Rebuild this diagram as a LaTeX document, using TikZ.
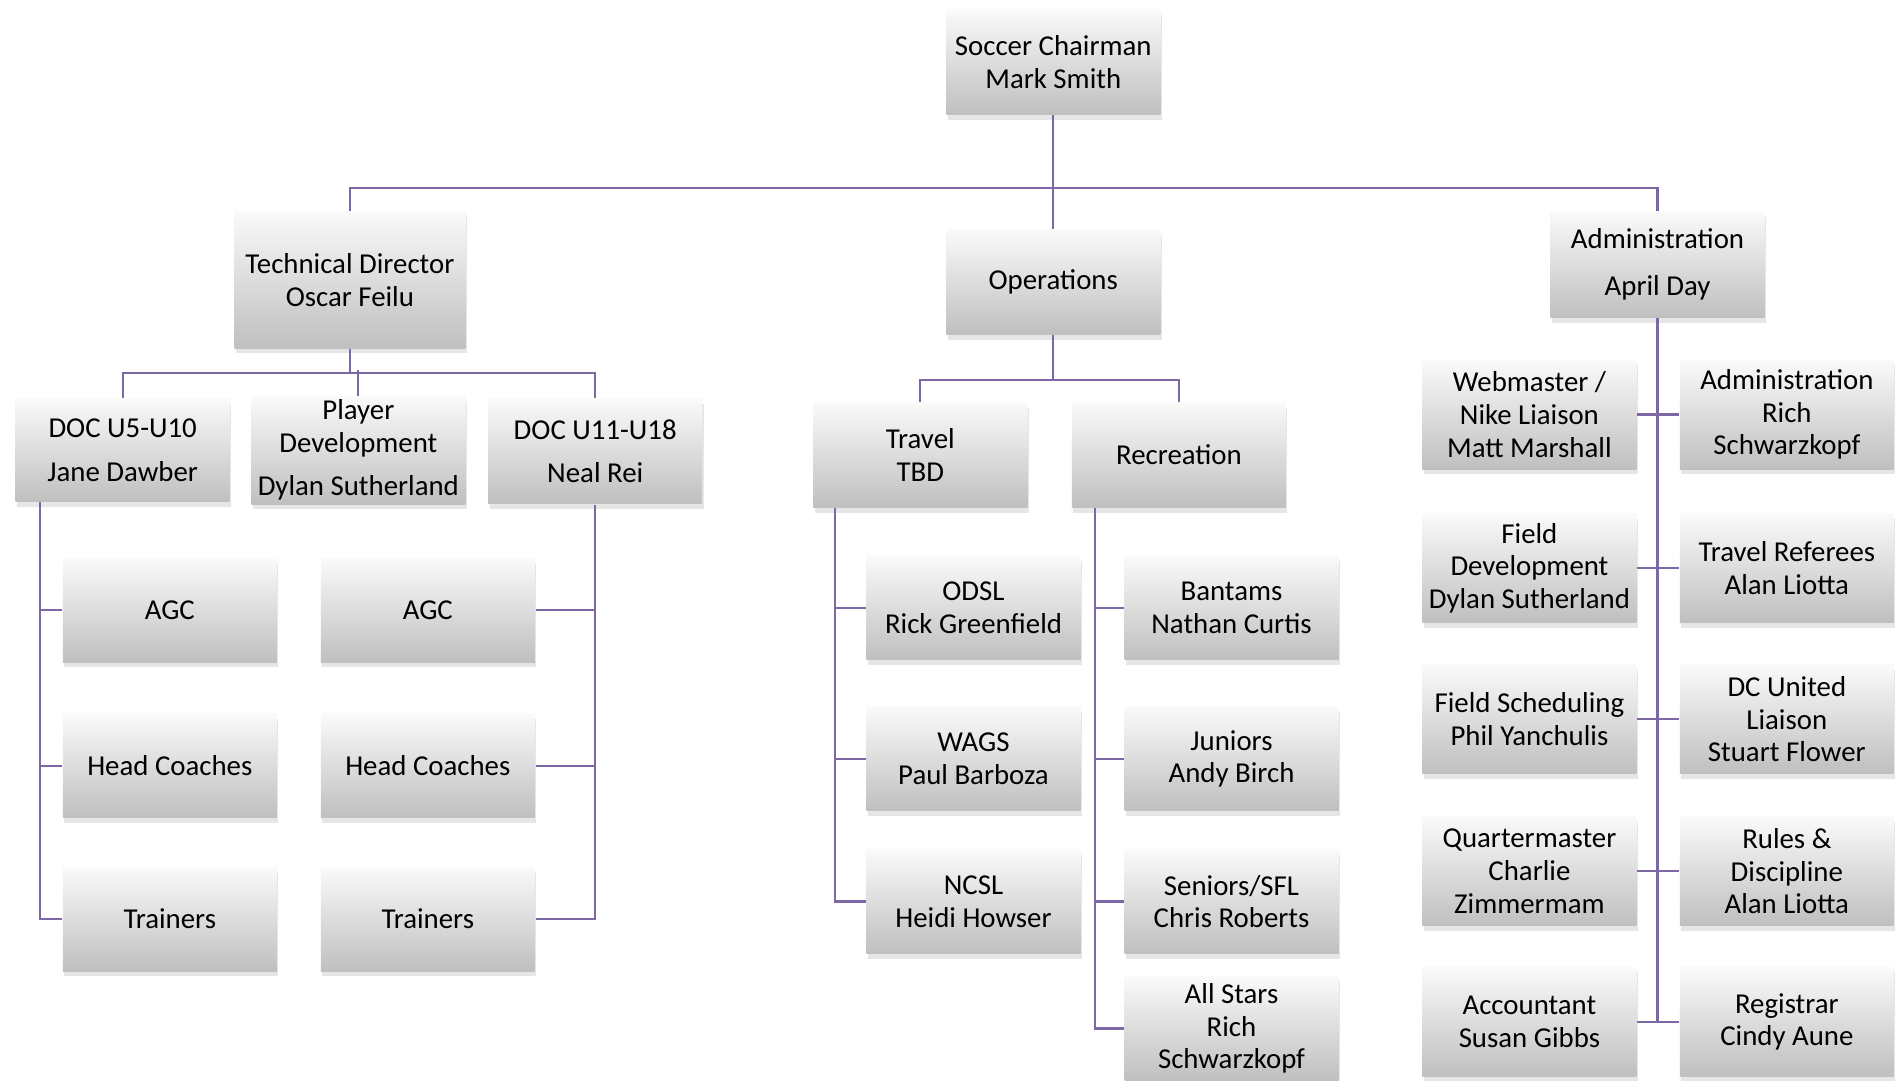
\documentclass[tikz,border=0pt]{standalone}
\usepackage{fontspec}
\setmainfont{Carlito}
\usetikzlibrary{shadows}
\definecolor{lilac}{RGB}{125,104,165}

\begin{document}
\begin{tikzpicture}[x=0.12085mm,y=-0.12085mm,
  box/.style={top color=gray!4,bottom color=gray!50,align=center,inner sep=1pt,
    minimum width=21.4mm,minimum height=10.5mm,
    font=\fontsize{8.2}{9.3}\selectfont,
    drop shadow={shadow xshift=0.15mm,shadow yshift=-0.5mm,opacity=0.2}},
  link/.style={draw=lilac,line width=0.22mm}]
\useasboundingbox (0,0) rectangle (1568,894);
\clip (0,0) rectangle (1568,894);
% top levels
\node[box] (chair) at (871.5,51.5) {Soccer Chairman\\Mark Smith};
\node[box,minimum width=23.1mm,minimum height=13.7mm] (tech) at (289.5,231.5) {Technical Director\\Oscar Feilu};
\node[box] (ops) at (871.5,233.5) {Operations};
\node[box,minimum height=10.6mm] (admin) at (1371.5,219) {Administration\\[4pt]April Day};
\draw[link] (chair.south) -- (ops.north);
\draw[link] (tech.north) -- ++(0,-19) -| (admin.north);
% technical
\node[box,minimum height=10.3mm] (doca) at (101.5,372.5) {DOC U5-U10\\[3pt]Jane Dawber};
\node[box,minimum height=10.3mm] (pdev) at (296.5,372.5) {Player\\Development\\[3pt]Dylan Sutherland};
\node[box] (docb) at (492.5,373.5) {DOC U11-U18\\[3pt]Neal Rei};
\draw[link] (tech.south) -- ++(0,21);
\draw[link] (doca.north) -- ++(0,-21) -| (docb.north);
\draw[link] (pdev.north) -- ++(0,-21);
\foreach \y/\t [count=\i] in {505/AGC,633.5/Head Coaches,760.5/Trainers} {
  \node[box,minimum height=10.4mm] (la\i) at (140.5,\y) {\t};
  \node[box,minimum height=10.4mm] (lb\i) at (354,\y) {\t};
}
\coordinate (sa) at (33,415);
\draw[link] (sa) |- (la3.west);
\draw[link] (docb.south) |- (lb3.east);
\foreach \i in {1,2} {
  \draw[link] (la\i.west) -- (la\i.west -| sa);
  \draw[link] (lb\i.east) -- (lb\i.east -| docb.south);
}
% operations
\node[box] (travel) at (761.5,376.5) {Travel\\TBD};
\node[box] (rec) at (975.5,376.5) {Recreation};
\draw[link] (ops.south) -- ++(0,38);
\draw[link] (travel.north) -- ++(0,-18) -| (rec.north);
\foreach \y/\t [count=\i] in {503/{ODSL\\Rick Greenfield},628/{WAGS\\Paul Barboza},746/{NCSL\\Heidi Howser}}
  \node[box,minimum height=10.4mm] (tv\i) at (805.5,\y) {\t};
\foreach \y/\t [count=\i] in {503/{Bantams\\Nathan Curtis},628/{Juniors\\Andy Birch},746/{Seniors/SFL\\Chris Roberts},851/{All Stars\\Rich\\Schwarzkopf}}
  \node[box,minimum height=10.4mm] (rc\i) at (1019,\y) {\t};
\coordinate (st) at (691,420);
\coordinate (sr) at (906,420);
\draw[link] (st) |- (tv3.west);
\draw[link] (sr) |- (rc4.west);
\foreach \i in {1,2} \draw[link] (tv\i.west) -- (tv\i.west -| st);
\foreach \i in {1,2,3} \draw[link] (rc\i.west) -- (rc\i.west -| sr);
% administration
\foreach \y/\a/\b [count=\i] in {
  343/{Webmaster /\\Nike Liaison\\Matt Marshall}/{Administration\\Rich\\Schwarzkopf},
  470/{Field\\Development\\Dylan Sutherland}/{Travel Referees\\Alan Liotta},
  595/{Field Scheduling\\Phil Yanchulis}/{DC United\\Liaison\\Stuart Flower},
  721/{Quartermaster\\Charlie\\Zimmermam}/{Rules \&\\Discipline\\Alan Liotta},
  845.5/{Accountant\\Susan Gibbs}/{Registrar\\Cindy Aune}} {
  \node[box,minimum height=10.9mm] (ad\i) at (1265.5,\y) {\a};
  \node[box,minimum height=10.9mm] (ar\i) at (1478.5,\y) {\b};
  \draw[link] (ad\i.east) -- (ar\i.west);
}
\draw[link] (admin.south) -- (admin.south |- ad5.east);
\end{tikzpicture}
\end{document}
